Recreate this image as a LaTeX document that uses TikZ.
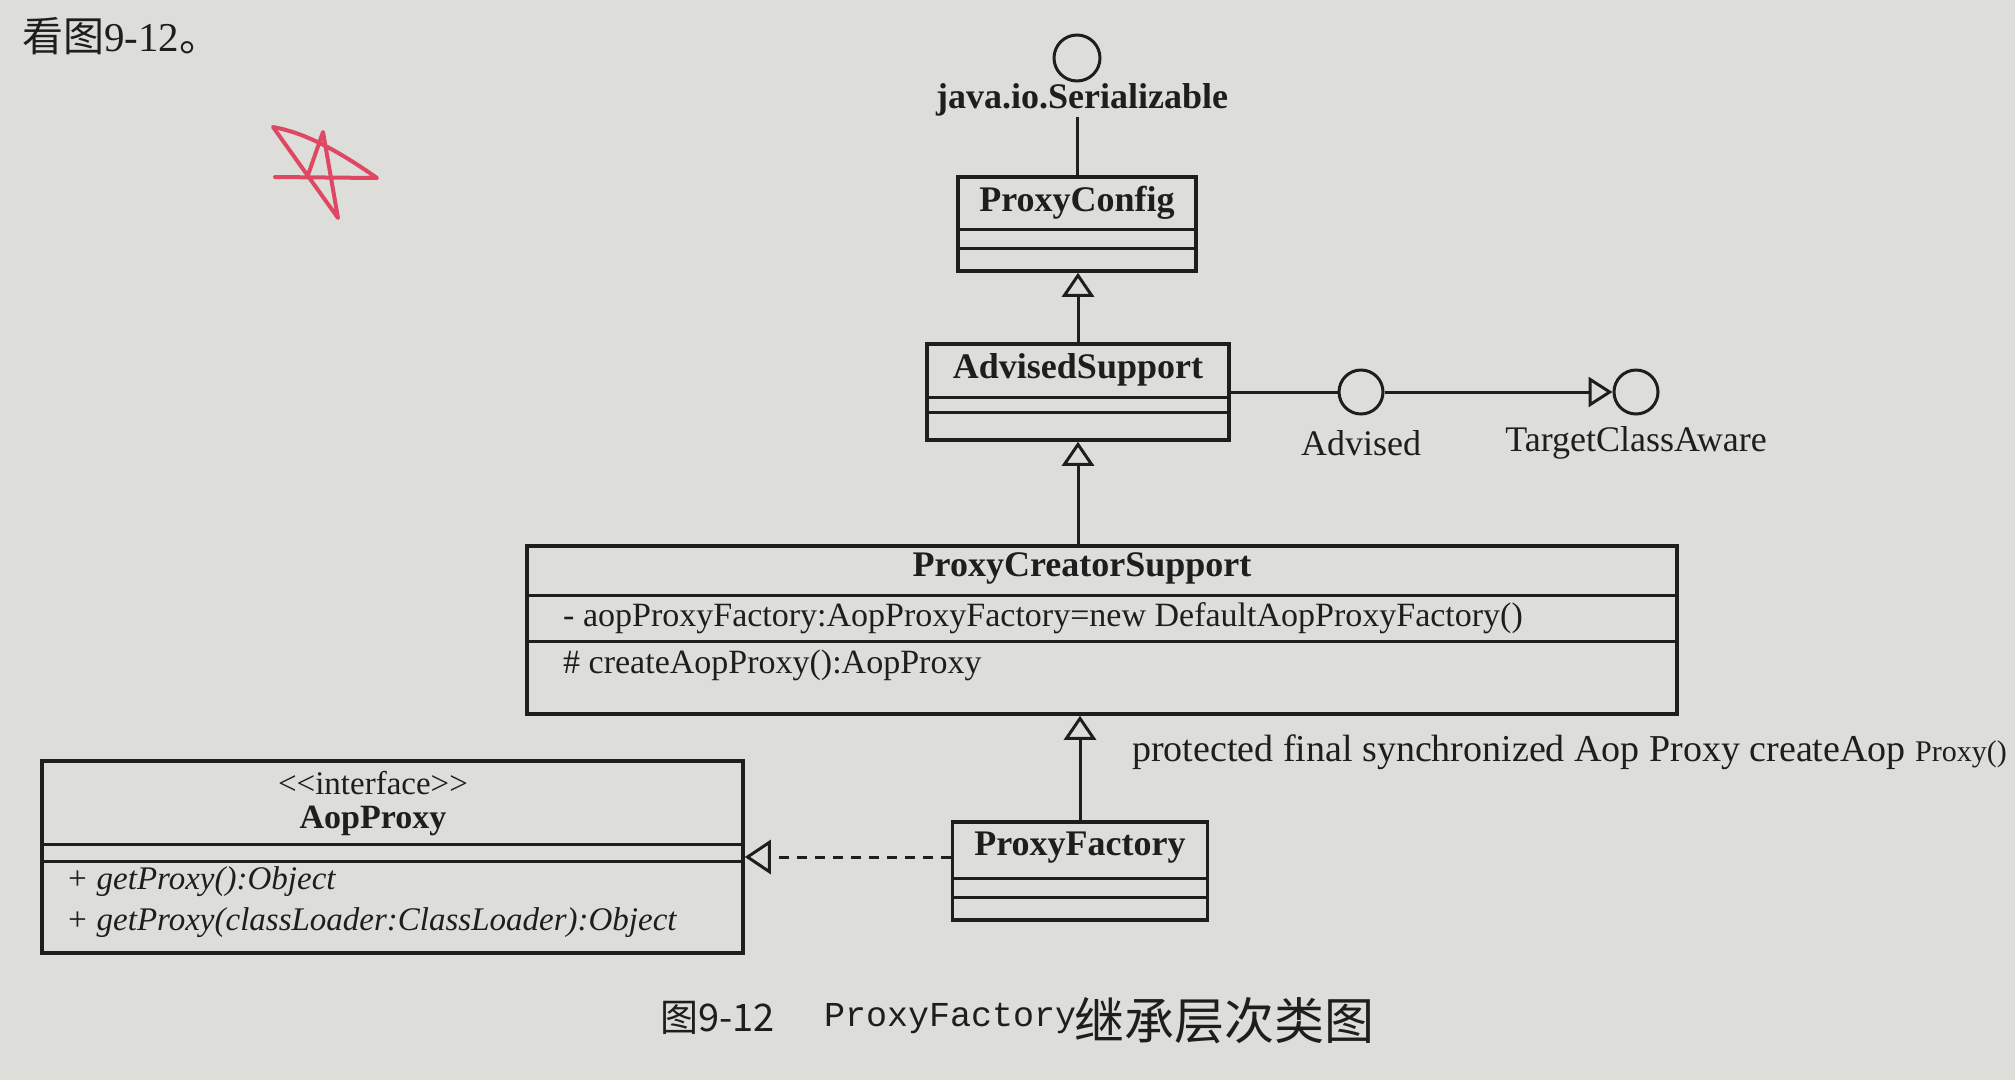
\documentclass[tikz,border=0pt]{standalone}
\usepackage{fontspec}
\setmainfont{Liberation Serif}
\newfontfamily\cjk{Noto Sans CJK SC}
\newfontfamily\monof{Liberation Mono}
\usetikzlibrary{arrows.meta}
\definecolor{bg}{RGB}{221,221,217}
\definecolor{ink}{RGB}{30,30,30}
\definecolor{redpen}{RGB}{222,72,98}
\begin{document}
\begin{tikzpicture}[x=1pt,y=-1pt,
  box/.style={draw=ink, line width=3.5pt, rectangle, inner sep=0pt},
  lolli/.style={draw=ink, line width=3pt, circle, inner sep=0pt, minimum size=44pt},
  conn/.style={draw=ink, line width=3pt},
  divl/.style={draw=ink, line width=3pt},
  gen/.style={conn, -{Triangle[open, length=24pt, width=32pt]}},
  real/.style={conn, dash pattern=on 10pt off 8pt, -{Triangle[open, length=26pt, width=34pt]}},
  cname/.style={text=ink, font=\fontsize{36}{40}\selectfont\bfseries, inner sep=0pt},
  member/.style={text=ink, font=\fontsize{34}{38}\selectfont, inner sep=0pt, anchor=west},
  imember/.style={text=ink, font=\fontsize{33}{38}\selectfont\itshape, inner sep=0pt, anchor=west},
  plain/.style={text=ink, font=\fontsize{36}{40}\selectfont, inner sep=0pt}
]
\path[fill=bg] (0,0) rectangle (2015,1080);
\useasboundingbox (0,0) rectangle (2015,1080);

% top text and red star
\node[plain, anchor=west, font=\fontsize{41}{45}\selectfont] (intro) at (22,36) {{\cjk 看图}9-12{\cjk 。}};
\draw[redpen, line width=4pt, line join=round, line cap=round]
  (275,177) -- (377,178) .. controls (330,145) and (300,132) .. (273,127)
  -- (338,218) -- (323,132) -- (308,175);

% java.io.Serializable lollipop
\node[lolli, minimum size=46pt] (ser) at (1077,58) {};
\node[cname] (serl) at (1082,100) {java.io.Serializable};

% ProxyConfig
\node[box, minimum width=238pt, minimum height=94pt] (pc) at (1077,224) {};
\node[cname] (pct) at (1077,203) {ProxyConfig};
\draw[divl] (958,229) -- (1196,229);
\draw[divl] (958,248) -- (1196,248);

% AdvisedSupport
\node[box, minimum width=302pt, minimum height=96pt] (as) at (1078,392) {};
\node[cname] (ast) at (1078,370) {AdvisedSupport};
\draw[divl] (927,397) -- (1229,397);
\draw[divl] (927,412) -- (1229,412);

% Advised / TargetClassAware
\node[lolli] (adv) at (1361,392) {};
\node[plain] (advl) at (1361,443) {Advised};
\node[lolli] (tca) at (1636,392) {};
\node[plain] (tcal) at (1636,443) {TargetClassAware};

% ProxyCreatorSupport
\node[box, minimum width=1150pt, minimum height=168pt] (pcs) at (1102,630) {};
\node[cname] (pcst) at (1082,568) {ProxyCreatorSupport};
\draw[divl] (527,595) -- (1677,595);
\draw[divl] (527,641) -- (1677,641);
\node[member] (pcsa) at (563,618) {- aopProxyFactory:AopProxyFactory=new DefaultAopProxyFactory()};
\node[member] (pcsm) at (563,665) {\# createAopProxy():AopProxy};

\node[plain, anchor=west, font=\fontsize{38}{42}\selectfont] (note) at (1132,752) {protected final synchronized Aop Proxy createAop {\fontsize{30}{34}\selectfont Proxy()}};

% ProxyFactory
\node[box, minimum width=255pt, minimum height=98pt] (pf) at (1080,871) {};
\node[cname] (pft) at (1080,848) {ProxyFactory};
\draw[divl] (953,878) -- (1208,878);
\draw[divl] (953,897) -- (1208,897);

% AopProxy
\node[box, minimum width=701pt, minimum height=192pt] (ap) at (392.5,857) {};
\node[plain, font=\fontsize{33}{36}\selectfont] (apst) at (373,783) {{<}{<}interface{>}{>}};
\node[cname, font=\fontsize{34}{38}\selectfont\bfseries] (apt) at (373,821) {AopProxy};
\draw[divl] (42,844) -- (743,844);
\draw[divl] (42,861) -- (743,861);
\node[imember] (apm1) at (66,882) {+ getProxy():Object};
\node[imember] (apm2) at (66,923) {+ getProxy(classLoader:ClassLoader):Object};

% connectors
\draw[conn] (pc.north |- serl.south) -- (pc.north);
\draw[gen] (as.north) -- (as.north |- pc.south);
\draw[gen] (pcs.north -| as.south) -- (as.south);
\draw[gen] (pf.north) -- (pf.north |- pcs.south);
\draw[conn] (as.east |- adv.west) -- (adv.west);
\draw[conn, -{Triangle[open, length=24pt, width=30pt]}] (adv.east) -- (tca.west);
\draw[real] (pf.west |- ap.east) -- (ap.east);

% caption
\node[plain, anchor=west, font=\fontsize{38}{42}\selectfont\cjk] (cap1) at (660,1018) {图9-12};
\node[plain, anchor=west, font=\fontsize{35}{40}\selectfont\monof] (cap2) at (824,1018) {ProxyFactory};
\node[plain, anchor=west, font=\fontsize{50}{54}\selectfont\cjk] (cap3) at (1074,1021) {继承层次类图};
\end{tikzpicture}
\end{document}
